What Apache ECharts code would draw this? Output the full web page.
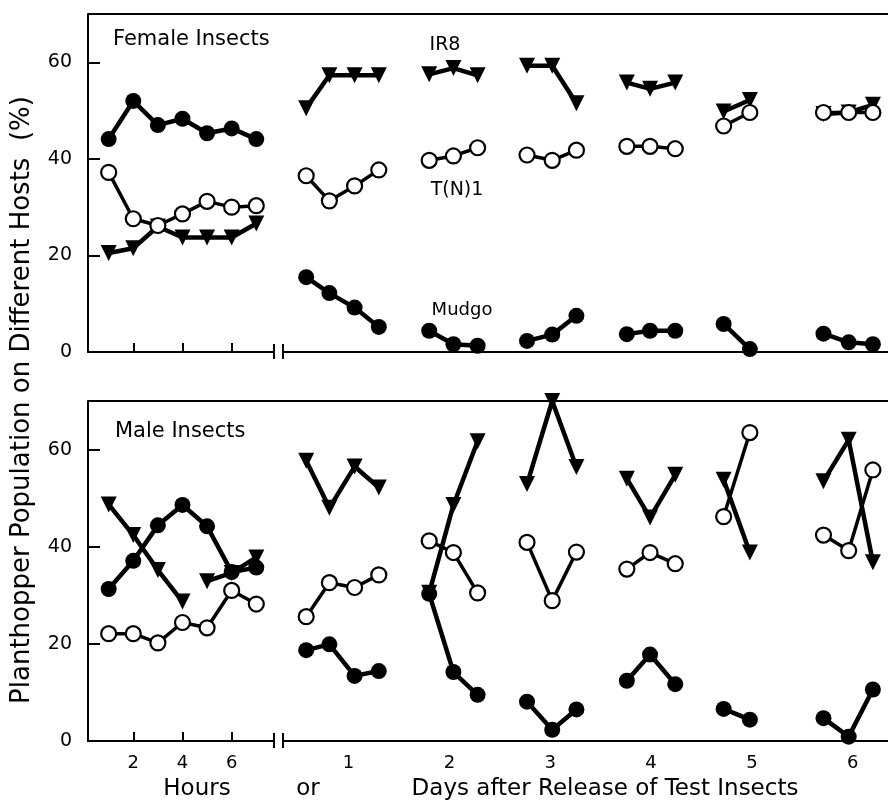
<!DOCTYPE html>
<html>
<head>
<meta charset="utf-8">
<title>Planthopper population on different hosts</title>
<script src="https://cdn.jsdelivr.net/npm/echarts@6.0.0/dist/echarts.min.js"></script>
<style>
  html, body { margin: 0; padding: 0; background: #fff; }
  #chart { width: 888px; height: 805px; }
</style>
</head>
<body>
<div id="chart"></div>
<script>
// x positions: hours after release, then days after release (3-4 readings per day)
var hourX = [[1, 2, 3, 4, 5, 6, 7]];
var hourXSplit = [[1, 2, 3, 4], [5, 6, 7]];
var dayX = [[0.58, 0.81, 1.06, 1.30], [1.80, 2.04, 2.28], [2.77, 3.02, 3.26],
            [3.76, 3.99, 4.24], [4.72, 4.98], [5.71, 5.96, 6.20]];
var hourTicks = [2, 4, 6];
var dayTicks = [1, 2, 3, 4, 5, 6];
var yTicks = [0, 20, 40, 60];

// female insects, % on each host
var femaleIR8Hours = [[20.5, 21.5, 26, 23.7, 23.7, 23.7, 26.6]];
var femaleIR8Days = [[50.5, 57.3, 57.3, 57.3], [57.5, 58.8, 57.3], [59.3, 59.3, 51.5],
                     [55.8, 54.5, 55.8], [49.8, 52.2], [49.3, 49.6, 51.2]];
var femaleTN1Hours = [[37.2, 27.6, 26.2, 28.6, 31.2, 30.0, 30.3]];
var femaleTN1Days = [[36.5, 31.3, 34.4, 37.7], [39.7, 40.6, 42.3], [40.8, 39.7, 41.8],
                     [42.6, 42.6, 42.1], [46.8, 49.6], [49.6, 49.6, 49.6]];
var femaleMudgoHours = [[44.1, 52, 47, 48.3, 45.3, 46.3, 44.1]];
var femaleMudgoDays = [[15.5, 12.2, 9.2, 5.2], [4.4, 1.6, 1.3], [2.3, 3.6, 7.5],
                       [3.7, 4.4, 4.4], [5.8, 0.6], [3.8, 2.0, 1.6]];

// male insects, % on each host
var maleIR8Hours = [[48.7, 42.4, 35.2, 28.7], [32.9, 34.6, 37.8]];
var maleIR8Days = [[57.7, 48.0, 56.5, 52.2], [30.5, 48.6, 61.7], [52.9, 70, 56.4],
                   [54, 46, 54.8], [53.8, 38.8], [53.5, 62, 36.8]];
var maleTN1Hours = [[22.1, 22.1, 20.2, 24.4, 23.3, 31, 28.2]];
var maleTN1Days = [[25.6, 32.6, 31.6, 34.2], [41.2, 38.8, 30.5], [40.9, 28.9, 38.9],
                   [35.4, 38.8, 36.5], [46.2, 63.5], [42.4, 39.2, 55.8]];
var maleMudgoHours = [[31.3, 37.1, 44.4, 48.6, 44.2, 34.8, 35.7]];
var maleMudgoDays = [[18.7, 19.9, 13.4, 14.4], [30.3, 14.2, 9.5], [8.1, 2.3, 6.5],
                     [12.4, 17.8, 11.7], [6.6, 4.4], [4.7, 0.9, 10.6]];

var FONT = 'DejaVu Sans';

// join segments into one line, a '-' point between them breaks the line
function segData(xSegs, ySegs) {
    var out = [];
    for (var i = 0; i < xSegs.length; i++) {
        if (i > 0) {
            var prev = xSegs[i - 1];
            out.push([(prev[prev.length - 1] + xSegs[i][0]) / 2, '-']);
        }
        for (var j = 0; j < xSegs[i].length; j++) {
            out.push([xSegs[i][j], ySegs[i][j]]);
        }
    }
    return out;
}

var styles = {
    ir8: {
        symbol: 'triangle', symbolRotate: 180, symbolSize: [16, 16], z: 2,
        itemStyle: {color: '#000'},
        lineStyle: {color: '#000', width: 4.5}
    },
    tn1: {
        symbol: 'circle', symbolSize: 15, z: 3,
        itemStyle: {color: '#fff', borderColor: '#000', borderWidth: 2.2},
        lineStyle: {color: '#000', width: 3.5}
    },
    mudgo: {
        symbol: 'circle', symbolSize: 16, z: 4,
        itemStyle: {color: '#000'},
        lineStyle: {color: '#000', width: 4.5}
    }
};

function line(name, kind, axis, xSegs, ySegs) {
    var s = styles[kind];
    return {
        name: name,
        type: 'line',
        xAxisIndex: axis,
        yAxisIndex: axis,
        data: segData(xSegs, ySegs),
        symbol: s.symbol,
        symbolRotate: s.symbolRotate || 0,
        symbolSize: s.symbolSize,
        showAllSymbol: true,
        connectNulls: false,
        clip: false,
        z: s.z,
        itemStyle: s.itemStyle,
        lineStyle: s.lineStyle,
        emphasis: {disabled: true},
        silent: true
    };
}

var axisLine = {show: true, onZero: false, lineStyle: {color: '#000', width: 2}};

function hoursAxis(grid, labels) {
    return {
        type: 'value', gridIndex: grid, min: 0.16, max: 7.72,
        axisLine: axisLine,
        axisTick: {show: true, inside: true, length: 9, customValues: hourTicks,
                   lineStyle: {color: '#000', width: 2}},
        axisLabel: {show: labels, customValues: hourTicks, margin: 13,
                    color: '#000', fontFamily: FONT, fontSize: 18},
        splitLine: {show: false}
    };
}

function daysAxis(grid, labels) {
    return {
        type: 'value', gridIndex: grid, min: 0.35, max: 6.35,
        axisLine: axisLine,
        axisTick: {show: false},
        axisLabel: {show: labels, customValues: dayTicks, margin: 13,
                    color: '#000', fontFamily: FONT, fontSize: 18},
        splitLine: {show: false}
    };
}

function valueAxis(grid, visible) {
    return {
        type: 'value', gridIndex: grid, min: 0, max: 70, show: visible,
        axisLine: axisLine,
        axisTick: {show: true, inside: true, length: 12, customValues: yTicks,
                   lineStyle: {color: '#000', width: 2}},
        axisLabel: {customValues: yTicks, margin: 16,
                    color: '#000', fontFamily: FONT, fontSize: 19},
        splitLine: {show: false}
    };
}

function txt(text, x, y, size, align) {
    return {
        type: 'text', x: x, y: y, silent: true,
        style: {text: text, fill: '#000', font: size + 'px "' + FONT + '"',
                align: align, verticalAlign: 'middle',
                textAlign: align, textVerticalAlign: 'middle'}
    };
}

function seg(x1, y1, x2, y2) {
    return {type: 'line', silent: true, shape: {x1: x1, y1: y1, x2: x2, y2: y2},
            style: {stroke: '#000', lineWidth: 2}};
}

var yName = txt('Planthopper Population on Different Hosts  (%)', 22, 400, 26, 'center');
yName.rotation = Math.PI / 2;

var option = {
    backgroundColor: '#fff',
    animation: false,
    grid: [
        {left: 88, top: 14, width: 186, height: 338},
        {left: 283, top: 14, right: 0, height: 338},
        {left: 88, top: 401, width: 186, height: 340},
        {left: 283, top: 401, right: 0, height: 340}
    ],
    xAxis: [hoursAxis(0, false), daysAxis(1, false), hoursAxis(2, true), daysAxis(3, true)],
    yAxis: [valueAxis(0, true), valueAxis(1, false), valueAxis(2, true), valueAxis(3, false)],
    series: [
        line('IR8', 'ir8', 0, hourX, femaleIR8Hours),
        line('IR8', 'ir8', 1, dayX, femaleIR8Days),
        line('T(N)1', 'tn1', 0, hourX, femaleTN1Hours),
        line('T(N)1', 'tn1', 1, dayX, femaleTN1Days),
        line('Mudgo', 'mudgo', 0, hourX, femaleMudgoHours),
        line('Mudgo', 'mudgo', 1, dayX, femaleMudgoDays),
        line('IR8', 'ir8', 2, hourXSplit, maleIR8Hours),
        line('IR8', 'ir8', 3, dayX, maleIR8Days),
        line('T(N)1', 'tn1', 2, hourX, maleTN1Hours),
        line('T(N)1', 'tn1', 3, dayX, maleTN1Days),
        line('Mudgo', 'mudgo', 2, hourX, maleMudgoHours),
        line('Mudgo', 'mudgo', 3, dayX, maleMudgoDays)
    ],
    graphic: [
        // top borders run across the break
        seg(88, 14, 888, 14),
        seg(88, 401, 888, 401),
        // axis break marks
        seg(274, 344, 274, 359), seg(283, 344, 283, 359),
        seg(274, 733, 274, 748), seg(283, 733, 283, 748),
        txt('Female Insects', 113, 40, 21, 'left'),
        txt('Male Insects', 115, 432, 21, 'left'),
        txt('IR8', 445, 45, 19, 'center'),
        txt('T(N)1', 457, 190, 19, 'center'),
        txt('Mudgo', 462, 310, 18, 'center'),
        yName,
        txt('Hours', 197, 789, 23, 'center'),
        txt('or', 308, 789, 23, 'center'),
        txt('Days after Release of Test Insects', 605, 789, 23, 'center')
    ]
};

var myChart = echarts.init(document.getElementById('chart'));
myChart.setOption(option);
</script>
</body>
</html>
